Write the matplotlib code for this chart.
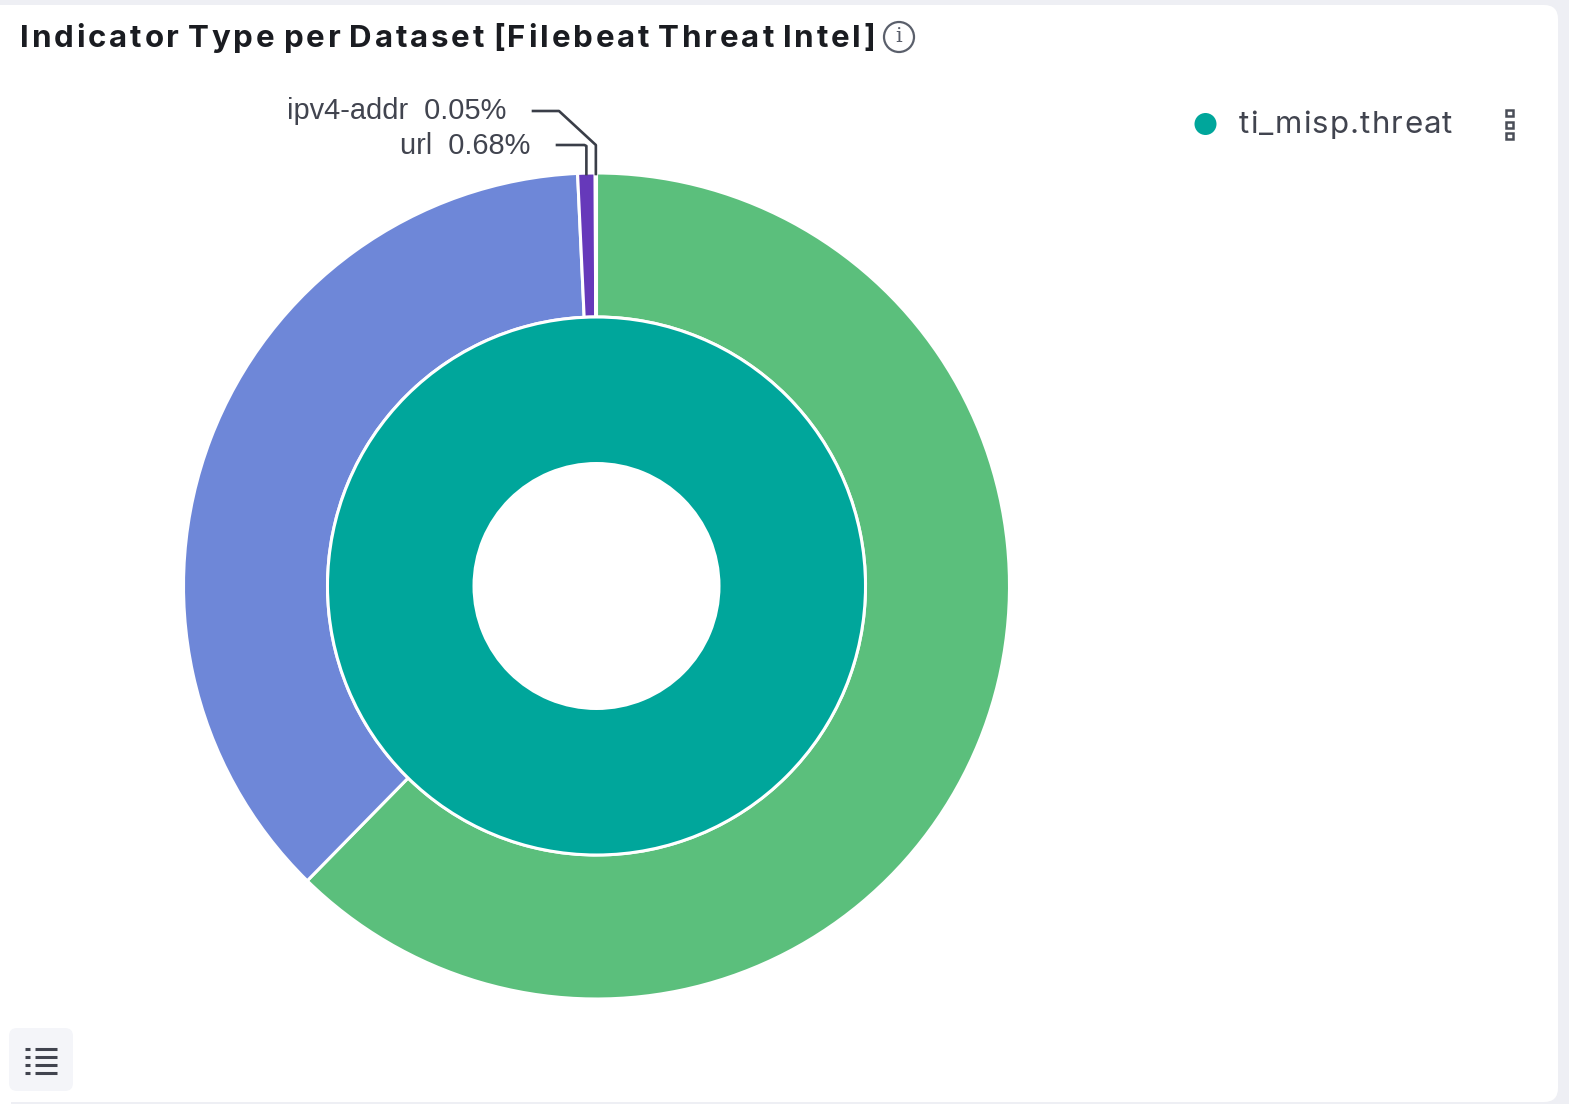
import numpy as np
import matplotlib
matplotlib.use("Agg")
import matplotlib.pyplot as plt
from matplotlib.patches import Circle, FancyBboxPatch, Rectangle

# ==========================================================
# Data
# ==========================================================
title = "Indicator Type per Dataset [Filebeat Threat Intel]"

dataset_names = ["ti_misp.threat"]
dataset_values = [100.0]
dataset_colors = ["#00A69B"]

# the two large slices carry no label in the picture
type_names = [None, None, "url", "ipv4-addr"]
type_values = [62.35, 36.92, 0.68, 0.05]
type_colors = ["#5BBF7C", "#6E87D8", "#6639BA", "#C08AC8"]

W, H = 1569, 1104
TEXT = "#41444F"

def y_px(y):
    # picture coordinates run downwards
    return H - y

fig = plt.figure(figsize=(W / 100, H / 100), dpi=100, facecolor="#EEEFF4")
ax = fig.add_axes([0, 0, 1, 1])
ax.set_facecolor("none")

# card
ax.add_patch(FancyBboxPatch((-20, y_px(1102)), 1578, 1097,
                            boxstyle="round,pad=0,rounding_size=14",
                            fc="white", ec="none", zorder=0))
ax.add_patch(Rectangle((-1, y_px(1104)), 12, 1060, fc="white", ec="none", zorder=0))

# ==========================================================
# Donut
# ==========================================================
center = (596.5, y_px(586))
outer_r, mid_r, hole_r = 413, 269, 124

outer, _ = ax.pie(type_values, colors=type_colors, startangle=90, counterclock=False,
                  center=center, radius=outer_r, frame=True,
                  wedgeprops=dict(width=outer_r - mid_r, edgecolor="white", linewidth=2.2))
inner, _ = ax.pie(dataset_values, colors=dataset_colors, startangle=90, counterclock=False,
                  center=center, radius=mid_r, frame=True,
                  wedgeprops=dict(width=mid_r - hole_r, edgecolor="none"))
ax.add_patch(Circle(center, mid_r, fc="none", ec="white", lw=2.2, zorder=5))

ax.set_xlim(0, W)
ax.set_ylim(0, H)
ax.set_aspect("equal")
ax.axis("off")

# ==========================================================
# Text with letter spacing, matplotlib has no option for it
# ==========================================================
renderer = fig.canvas.get_renderer()

def spaced_text(x, y, s, extra, space_w, **kw):
    for ch in s:
        if ch == " ":
            x += space_w
            continue
        t = ax.text(x, y, ch, ha="left", va="baseline", **kw)
        # advance of the glyph, measured between two marker letters
        probe = ax.text(0, 0, "|" + ch + "|", **kw)
        pair = ax.text(0, 0, "||", **kw)
        adv = probe.get_window_extent(renderer).width - pair.get_window_extent(renderer).width
        probe.remove()
        pair.remove()
        x += adv + extra
    return x

# ==========================================================
# Leader lines and slice labels
# ==========================================================
def slice_x(wedge):
    mid = np.deg2rad((wedge.theta1 + wedge.theta2) / 2)
    return center[0] + outer_r * np.cos(mid)

line_top = y_px(174)

url_x = slice_x(outer[2])
ipv4_x = slice_x(outer[3])

ax.plot([url_x, url_x, url_x - 2, 557], [line_top, y_px(146), y_px(145), y_px(145)],
        color="#3A3E48", lw=1.9, zorder=6)
ax.plot([ipv4_x, ipv4_x, 559, 533], [line_top, y_px(145), y_px(111), y_px(111)],
        color="#3A3E48", lw=1.9, zorder=6)

label_font = dict(family="Liberation Sans", fontsize=20.9, color=TEXT, va="center", ha="right")
ax.text(506, y_px(111), f"{type_names[3]}  {type_values[3]:.2f}%", **label_font)
ax.text(530, y_px(146), f"{type_names[2]}  {type_values[2]:.2f}%", **label_font)

# ==========================================================
# Title and info icon
# ==========================================================
spaced_text(20, y_px(47), title, 2.85, 6.0, family="Inter", fontweight="bold", fontsize=22.5,
            color="#1A1C21")
ax.add_patch(Circle((899, y_px(37)), 15, fc="none", ec="#5A5F6B", lw=1.6))
ax.text(899, y_px(36), "i", family="DejaVu Serif", fontsize=15, color="#5A5F6B", ha="center", va="center")

# ==========================================================
# Legend
# ==========================================================
ax.add_patch(Circle((1205.5, y_px(124)), 11, fc=dataset_colors[0], ec="none"))
spaced_text(1239, y_px(133), dataset_names[0], 1.15, 8, family="Inter", fontsize=22.5, color=TEXT)
for yy in (113, 124.5, 136):
    ax.add_patch(Rectangle((1506, y_px(yy + 3)), 7, 6, fc="none", ec="#4A4E58", lw=1.8))

# ==========================================================
# Legend toggle button
# ==========================================================
ax.add_patch(FancyBboxPatch((9, y_px(1091)), 64, 63, boxstyle="round,pad=0,rounding_size=8",
                            fc="#F4F5F9", ec="none"))
for yy in (1049, 1057, 1065, 1073):
    ax.plot([25, 30], [y_px(yy), y_px(yy)], color="#41444F", lw=2.2, solid_capstyle="butt")
    ax.plot([35, 57], [y_px(yy), y_px(yy)], color="#41444F", lw=2.2, solid_capstyle="butt")

fig.savefig("out.png", dpi=100, facecolor=fig.get_facecolor())
